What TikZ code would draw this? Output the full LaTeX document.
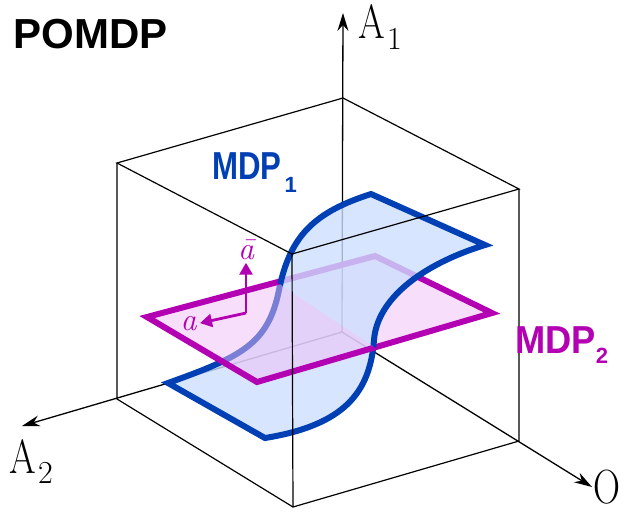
\documentclass[tikz,border=0pt]{standalone}
\usepackage{fontspec}
\usepackage{graphicx}
\usetikzlibrary{arrows.meta}
\newfontfamily\labelfont{Liberation Sans}
\definecolor{MB}{RGB}{0,64,180}
\definecolor{LB}{RGB}{205,222,255}
\definecolor{MM}{RGB}{178,0,178}
\definecolor{LM}{RGB}{240,190,245}
% outline of the sigmoid sheet (MDP 1)
\newcommand{\sheetpath}{(168,383) .. controls (240,357) and (268,345) .. (279,290)
  .. controls (290,235) and (315,212) .. (371,194) -- (485,245)
  .. controls (420,265) and (377,300) .. (374,340)
  .. controls (370,392) and (345,425) .. (265,438) -- cycle}
% axis name with a subscript
\newcommand{\axname}[3]{\scalebox{0.8}[1]{#1}\hspace{1pt}%
  \raisebox{-#3}{\fontsize{16}{16}\selectfont #2}}

\begin{document}
\begin{tikzpicture}[x=0.5pt, y=-0.5pt,
  edge/.style={draw=black, line width=0.6pt},
  axis/.style={draw=black, line width=0.65pt,
               -{Stealth[length=9pt,width=5.5pt,inset=3pt]}},
  sheet/.style={draw=MB, fill=LB, fill opacity=0.8, line width=3pt},
  plane/.style={draw=MM, fill=LM, fill opacity=0.5, line width=3pt},
  dir/.style={draw=MM, line width=1.4pt, -{Triangle[length=6pt,width=6.5pt]}},
  mdp/.style={font=\labelfont\bfseries\fontsize{19.5}{20}\selectfont,
              inner sep=0pt, anchor=base west},
  axl/.style={font=\fontsize{24}{26}\selectfont, inner sep=0pt, anchor=base west},
  act/.style={font=\itshape\fontsize{16}{18}\selectfont, text=MM, inner sep=1.5pt}
]
\useasboundingbox (0,0) rectangle (628,511);

% Cube corners
\coordinate (orig) at (342,332);
\coordinate (tl) at (117,163);
\coordinate (tb) at (343,98);
\coordinate (tr) at (519,189);
\coordinate (tf) at (292,254);
\coordinate (bl) at (117,399);
\coordinate (br) at (519,441);
\coordinate (bf) at (293,507);

% Axes (behind the surfaces)
\coordinate (a1tip) at (343,13);
\coordinate (a2tip) at (22,426);
\coordinate (otip)  at (592,487);
\draw[axis] (orig) -- (a1tip);
\draw[axis] (orig) -- (a2tip);
\draw[axis] (orig) -- (otip);

% MDP 1, part below the plane
\begin{scope}
  \clip (-22,84) -- (673,545) -- (673,600) -- (-22,600) -- cycle;
  \path[sheet] \sheetpath;
\end{scope}

% MDP 2
\path[plane] (147,317) -- (375,256) -- (492,313) -- (257,382) -- cycle;

% MDP 1, part above the plane
\begin{scope}
  \clip (-22,84) -- (673,545) -- (673,-60) -- (-22,-60) -- cycle;
  \path[sheet] \sheetpath;
\end{scope}

% Cube edges in front
\draw[edge] (tl) -- (tb) -- (tr) -- (tf) -- cycle;
\draw[edge] (tl) -- (bl) -- (bf) -- (br) -- (tr);
\draw[edge] (tf) -- (bf);

% Action directions
\coordinate (corner) at (246,313);
\node[act, anchor=base] (abar) at (246,259) {\=a};
\node[act, anchor=base east] (alab) at (200,330) {a};
\draw[dir] (corner) -- (abar.south);
\draw[dir] (corner) -- (alab.east);

% Labels
\node[font=\labelfont\bfseries\fontsize{21}{24}\selectfont, inner sep=0pt,
      anchor=base west] (title) at (13,48) {POMDP};
\node[mdp, text=MB] (mdpA) at (212,179)
  {\scalebox{0.8}[1]{MDP}\hspace{1.5pt}\raisebox{-6.5pt}{\fontsize{11}{11}\selectfont 1}};
\node[mdp, text=MM] (mdpB) at (515,353)
  {\scalebox{0.93}[1]{MDP}\raisebox{-5pt}{\fontsize{11}{11}\selectfont 2}};
\node[axl] (lA1) at (358,38) {\axname{A}{1}{5.5pt}};
\node[axl] (lA2) at (9,473) {\axname{A}{2}{5pt}};
\node[axl] (lO) at (593,503) {\scalebox{0.78}[1]{O}};
\end{tikzpicture}
\end{document}
